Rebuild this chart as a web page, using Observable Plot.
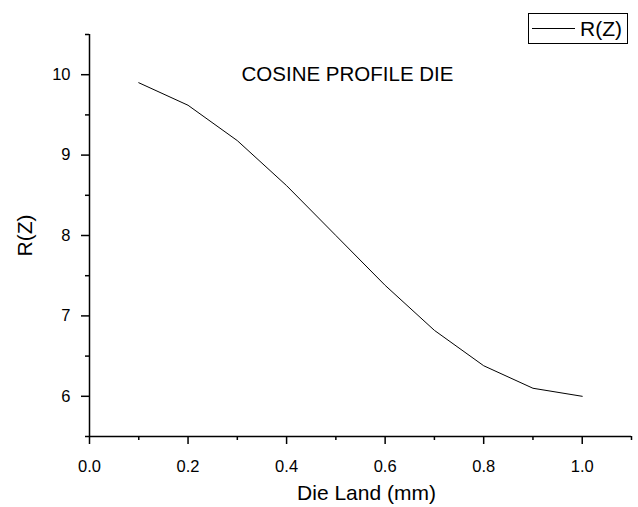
<!DOCTYPE html>
<html>
<head>
<meta charset="utf-8">
<script src="https://cdn.jsdelivr.net/npm/d3@7"></script>
<script src="https://cdn.jsdelivr.net/npm/@observablehq/plot@0.6"></script>
<style>
  html, body { margin: 0; padding: 0; background: #fff; }
  svg { font-family: "Liberation Sans", Arial, sans-serif; }
</style>
</head>
<body>
<div id="chart"></div>
<script>
const dieLand = [0.1, 0.2, 0.3, 0.4, 0.5, 0.6, 0.7, 0.8, 0.9, 1.0];
const rz = [9.90, 9.62, 9.18, 8.62, 8.00, 7.38, 6.82, 6.38, 6.10, 6.00];
const xMajor = [0, 0.2, 0.4, 0.6, 0.8, 1.0];
const xMinor = [0.1, 0.3, 0.5, 0.7, 0.9, 1.1];
const yMajor = [6, 7, 8, 9, 10];
const yMinor = [5.5, 6.5, 7.5, 8.5, 9.5, 10.5];
const seriesName = "R(Z)";
const titleText = "COSINE PROFILE DIE";
const xLabel = "Die Land (mm)";
const yLabel = "R(Z)";

const data = dieLand.map((x, i) => ({x, y: rz[i]}));

const W = 638, H = 507;
const mL = 89, mT = 34, mR = 7, mB = 71;

const plot = Plot.plot({
  width: W, height: H,
  marginLeft: mL, marginTop: mT, marginRight: mR, marginBottom: mB,
  style: {fontFamily: '"Liberation Sans", Arial, sans-serif', fontSize: "16px", color: "#000", background: "#fff"},
  x: {domain: [0, 1.1]},
  y: {domain: [5.5, 10.5]},
  marks: [
    Plot.axisX({ticks: xMajor, tickSize: 8, tickPadding: 16, tickFormat: d3.format(".1f"), fontSize: 16.5,
      label: null, strokeWidth: 1.5}),
    Plot.axisX({ticks: xMinor, tickSize: 4, text: null, label: null, strokeWidth: 1.5}),
    Plot.axisY({ticks: yMajor, tickSize: 8, tickPadding: 11, tickFormat: d => String(d), fontSize: 16.5,
      label: yLabel, labelAnchor: "center", labelArrow: "none", labelOffset: 72, strokeWidth: 1.5}),
    Plot.axisY({ticks: yMinor, tickSize: 4, text: null, label: null, strokeWidth: 1.5}),
    Plot.ruleX([0], {stroke: "#000", strokeWidth: 1.5}),
    Plot.ruleY([5.5], {stroke: "#000", strokeWidth: 1.5}),
    Plot.line(data, {x: "x", y: "y", stroke: "#000", strokeWidth: 1}),
    Plot.text([titleText], {frameAnchor: "top", lineAnchor: "middle", dx: -13, dy: 40, fontSize: 20.5, fill: "#000"}),
    Plot.text([xLabel], {frameAnchor: "bottom", lineAnchor: "middle", dx: 6, dy: 57, fontSize: 21, fill: "#000"})
  ]
});

const svg = d3.select(plot);
svg.selectAll("g[aria-label='y-axis label'] text").attr("font-size", 21);

// legend box
const lg = svg.append("g").attr("aria-label", "legend");
lg.append("rect").attr("x", 528.5).attr("y", 13.5).attr("width", 99).attr("height", 30)
  .attr("fill", "#fff").attr("stroke", "#000").attr("stroke-width", 1);
lg.append("line").attr("x1", 532).attr("x2", 575).attr("y1", 28.5).attr("y2", 28.5)
  .attr("stroke", "#000").attr("stroke-width", 1);
lg.append("text").attr("x", 580).attr("y", 29).attr("dy", "0.35em").attr("font-size", 21)
  .attr("text-anchor", "start").attr("fill", "#000").text(seriesName);

document.getElementById("chart").appendChild(plot);
</script>
</body>
</html>
